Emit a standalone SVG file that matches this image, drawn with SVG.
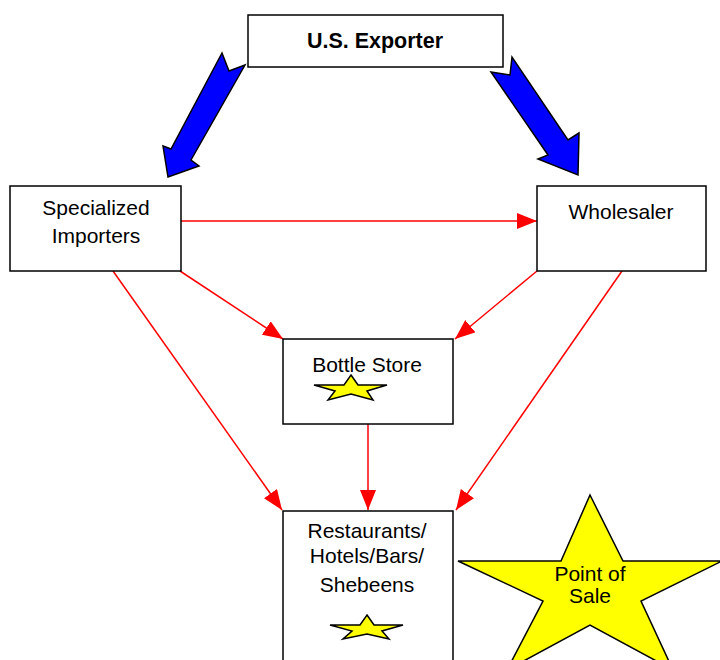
<svg xmlns="http://www.w3.org/2000/svg" width="720" height="660" viewBox="0 0 720 660">
<defs>
<style>
.box{fill:#fff;stroke:#000;stroke-width:1.5}
.t{font-family:"Liberation Sans",Arial,sans-serif;font-size:21px;fill:#000;text-anchor:middle}
.b{font-weight:bold;font-size:21.5px}
.con{stroke:#f00;stroke-width:1.5;fill:none;marker-end:url(#ah)}
.blue{fill:#00f;stroke:#000;stroke-width:1.5;stroke-linejoin:miter}
.star{fill:#ff0;stroke:#000;stroke-width:1.5}
</style>
<marker id="ah" markerUnits="userSpaceOnUse" markerWidth="20" markerHeight="16" refX="20" refY="8" orient="auto">
<path d="M0,0 L20,8 L0,16 z" fill="#f00"/>
</marker>
</defs>
<g id="connectors">
<line class="con" x1="181" y1="221" x2="537" y2="221"/>
<line class="con" x1="180" y1="271" x2="283" y2="339"/>
<line class="con" x1="537" y1="271" x2="455" y2="339"/>
<line class="con" x1="113" y1="271" x2="282" y2="510"/>
<line class="con" x1="622" y1="271" x2="456" y2="510"/>
<line class="con" x1="368" y1="424" x2="368" y2="510"/>
<polygon class="blue" points="222,53 229,71 245,65 191,160 199,166 168,177 163,146 171,149"/>
<polygon class="blue" points="491,72 510,75 512,57 568,140 579,133 578,175 538,159 548,155"/>
</g>
<g id="exporter">
<rect class="box" x="248" y="15" width="255" height="52"/>
<text class="t b" x="375" y="48">U.S. Exporter</text>
</g>
<g id="importers">
<rect class="box" x="10" y="186" width="171" height="85"/>
<text class="t" x="96" y="215">Specialized</text>
<text class="t" x="96" y="243">Importers</text>
</g>
<g id="wholesaler">
<rect class="box" x="537" y="186" width="169" height="85"/>
<text class="t" x="621" y="219">Wholesaler</text>
</g>
<g id="bottlestore">
<rect class="box" x="283" y="339" width="170" height="85"/>
<text class="t" x="367" y="372">Bottle Store</text>
<polygon class="star" points="351,375 358,385 387,385 367,391 373,400 351,394 328,400 335,391 314,385 344,385"/>
</g>
<g id="restaurants">
<rect class="box" x="283" y="511" width="170" height="160"/>
<text class="t" x="367" y="538">Restaurants/</text>
<text class="t" x="367" y="563">Hotels/Bars/</text>
<text class="t" x="367" y="592">Shebeens</text>
<polygon class="star" points="367,615 374,625 403,625 382,631 389,639 367,634 343,639 352,631 330,625 360,625"/>
</g>
<g id="pointofsale">
<polygon class="star" points="590,495 623,561 722,561 641,601 673,670 590,625 507,670 543,601 458,561 561,561"/>
<text class="t" x="590" y="581">Point of</text>
<text class="t" x="590" y="603">Sale</text>
</g>
</svg>
